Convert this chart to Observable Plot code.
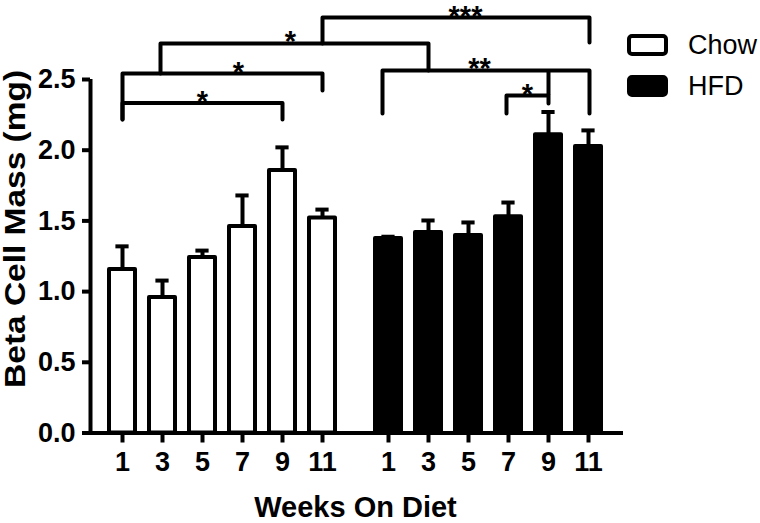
<!DOCTYPE html>
<html><head><meta charset="utf-8">
<script src="https://cdn.jsdelivr.net/npm/d3@7"></script>
<script src="https://cdn.jsdelivr.net/npm/@observablehq/plot@0.6"></script>
<style>
html,body{margin:0;padding:0;background:#fff;}
#chart svg{display:block;}
</style>
</head><body><div id="chart"></div>
<script>
// ---- data ----
const groups = ["Chow", "HFD"];
const groupFill = ["white", "black"];
const weeks = [1, 3, 5, 7, 9, 11];
const chowMean = [1.156, 0.958, 1.241, 1.46, 1.856, 1.52];
const chowErrTop = [1.32, 1.078, 1.29, 1.68, 2.02, 1.58];
const hfdMean = [1.375, 1.418, 1.397, 1.53, 2.11, 2.026];
const hfdErrTop = [1.388, 1.503, 1.489, 1.63, 2.27, 2.14];
const yTicks = [0, 0.5, 1, 1.5, 2, 2.5];
const yTitle = "Beta Cell Mass (mg)";
const xTitle = "Weeks On Diet";

// significance brackets (x in bar-slot units, y in mg)
const bracketFrom = [0, 0, 0.95, 5, 6.5, 9.6];
const bracketTo = [4, 5, 7.65, 11.675, 11.675, 10.65];
const bracketTop = [2.334, 2.542, 2.755, 2.938, 2.564, 2.386];
const bracketFromEnd = [2.217, 2.217, 2.542, 2.755, 2.26, 2.26];
const bracketToEnd = [2.217, 2.422, 2.564, 2.762, 2.26, 2.33];
const bracketLabel = ["*", "*", "*", "***", "**", "*"];
const bracketLabelX = [2, 2.9, 4.2, 8.575, 8.925, 10.125];
const connectorX = [10.65];
const connectorY1 = [2.386];
const connectorY2 = [2.564];

// ---- layout ----
const GROUP_OFFSET = [0, 6.65];
const HALF = 0.325, CAP = 0.165;
const XDOM = [-0.8, 12.525];
const FONT = "'Liberation Sans', Arial, Helvetica, sans-serif";

const rows = [];
groups.forEach((g, gi) => {
  const means = gi === 0 ? chowMean : hfdMean;
  const errs = gi === 0 ? chowErrTop : hfdErrTop;
  weeks.forEach((w, i) => rows.push({group: g, gi, week: w, pos: GROUP_OFFSET[gi] + i, mean: means[i], err: errs[i]}));
});
const tickPos = rows.map(d => d.pos);
const tickLabel = new Map(rows.map(d => [d.pos, String(d.week)]));

const brackets = bracketFrom.map((f, i) => ({i, f, t: bracketTo[i], top: bracketTop[i], fe: bracketFromEnd[i], te: bracketToEnd[i], label: bracketLabel[i], lx: bracketLabelX[i]}));
const bracketPts = brackets.flatMap(b => [
  {id: b.i, x: b.f, y: b.fe}, {id: b.i, x: b.f, y: b.top},
  {id: b.i, x: b.t, y: b.top}, {id: b.i, x: b.t, y: b.te}
]);
const connectors = connectorX.map((x, i) => ({x, y1: connectorY1[i], y2: connectorY2[i]}));

const chart = Plot.plot({
  width: 760, height: 523,
  marginLeft: 90, marginRight: 137, marginTop: 8.3, marginBottom: 90.5,
  x: {domain: XDOM},
  y: {domain: [0, 3]},
  style: {fontFamily: FONT, fontSize: "27px", fontWeight: "bold", color: "black", background: "white", overflow: "visible"},
  marks: [
    Plot.rect(rows, {x1: d => d.pos - HALF, x2: d => d.pos + HALF, y1: 0, y2: "mean",
      fill: d => groupFill[d.gi], stroke: "black", strokeWidth: 4, strokeLinejoin: "round"}),
    Plot.ruleX(rows, {x: "pos", y1: "mean", y2: "err", stroke: "black", strokeWidth: 4}),
    Plot.ruleY(rows, {y: "err", x1: d => d.pos - CAP, x2: d => d.pos + CAP, stroke: "black", strokeWidth: 4}),
    Plot.ruleX([XDOM[0]], {x: d => d, y1: 0, y2: yTicks[yTicks.length - 1], stroke: "black", strokeWidth: 4}),
    Plot.ruleY([0], {y: d => d, x1: XDOM[0] - 0.2, x2: XDOM[1], stroke: "black", strokeWidth: 4}),
    Plot.axisY({ticks: yTicks, tickSize: 8, tickPadding: 7, tickFormat: d3.format(".1f"), label: null, strokeWidth: 4, fontSize: 27, fontWeight: "bold"}),
    Plot.axisX({ticks: tickPos, tickSize: 10, tickPadding: 9, tickFormat: d => tickLabel.get(d), label: null, strokeWidth: 4, fontSize: 27, fontWeight: "bold"}),
    Plot.line(bracketPts, {x: "x", y: "y", z: "id", stroke: "black", strokeWidth: 4, strokeLinejoin: "round"}),
    Plot.ruleX(connectors, {x: "x", y1: "y1", y2: "y2", stroke: "black", strokeWidth: 4}),
    Plot.text(brackets, {x: "lx", y: "top", text: "label", lineAnchor: "bottom", dy: 8, fontSize: 29, fontWeight: "bold"}),
    Plot.text([yTitle], {text: d => d, frameAnchor: "left", textAnchor: "middle", rotate: -90, lineAnchor: "bottom", dx: -66, dy: 8, fontSize: 29, fontWeight: "bold", className: "ytitle"}),
    Plot.text([xTitle], {text: d => d, frameAnchor: "bottom", textAnchor: "middle", lineAnchor: "bottom", dy: 84, dx: -1.5, fontSize: 29, fontWeight: "bold"})
  ]
});
document.getElementById("chart").appendChild(chart);

const svg = d3.select(chart);
// stretch the rotated y title to the reference's length
svg.selectAll(".ytitle text").attr("textLength", 318).attr("lengthAdjust", "spacingAndGlyphs");

// legend (swatches + labels) inside the same SVG
const leg = svg.append("g").attr("font-family", FONT).attr("font-size", 27).attr("font-weight", "normal").attr("text-anchor", "start");
groups.forEach((g, i) => {
  const y0 = 36 + i * 41;
  leg.append("rect").attr("x", 629).attr("y", y0).attr("width", 37).attr("height", 18).attr("rx", 3)
    .attr("fill", groupFill[i]).attr("stroke", "black").attr("stroke-width", 4);
  leg.append("text").attr("x", 688).attr("y", y0 + 18).attr("text-anchor", "start").text(g).attr("fill", "black");
});
</script>
</body></html>
